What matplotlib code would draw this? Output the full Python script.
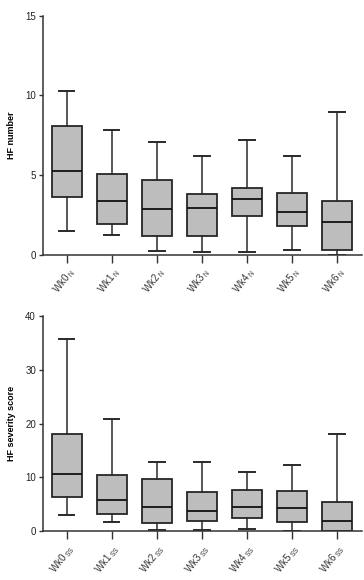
import matplotlib
matplotlib.use('Agg')
import matplotlib.pyplot as plt
import numpy as np

plt.rcParams['font.family'] = ['Liberation Sans', 'DejaVu Sans']

weeks = ['Wk0', 'Wk1', 'Wk2', 'Wk3', 'Wk4', 'Wk5', 'Wk6']

# HF number: whisker low, Q1, median, Q3, whisker high
n_low = [1.5, 1.25, 0.2, 0.15, 0.18, 0.3, 0.0]
n_q1 = [3.6, 1.95, 1.15, 1.2, 2.45, 1.8, 0.3]
n_med = [5.25, 3.35, 2.85, 2.95, 3.5, 2.65, 2.05]
n_q3 = [8.1, 5.05, 4.7, 3.8, 4.2, 3.85, 3.35]
n_high = [10.3, 7.8, 7.1, 6.2, 7.2, 6.2, 8.95]

# HF severity score
s_low = [3.0, 1.7, 0.2, 0.25, 0.45, 0.05, 0.0]
s_q1 = [6.3, 3.2, 1.5, 1.9, 2.4, 1.7, 0.0]
s_med = [10.6, 5.8, 4.5, 3.7, 4.6, 4.3, 2.0]
s_q3 = [18.0, 10.5, 9.7, 7.3, 7.6, 7.5, 5.5]
s_high = [35.7, 20.9, 12.9, 12.9, 11.1, 12.4, 18.0]


def make_stats(low, q1, med, q3, high):
    return [dict(whislo=a, q1=b, med=c, q3=d, whishi=e, fliers=[])
            for a, b, c, d, e in zip(low, q1, med, q3, high)]


def draw_panel(ax, stats, ymax, ystep, ylabel, sub):
    pos = np.arange(len(weeks))
    ax.bxp(stats, positions=pos, widths=0.67, patch_artist=True,
           showfliers=False,
           boxprops=dict(facecolor='#bdbdbd', edgecolor='#262626', linewidth=1.3),
           medianprops=dict(color='#111111', linewidth=1.3),
           whiskerprops=dict(color='#2a2a2a', linewidth=1.1),
           capprops=dict(color='#2a2a2a', linewidth=1.4),
           capwidths=0.34)
    ax.set_xlim(-0.53, 6.56)
    ax.set_ylim(0, ymax)
    ax.set_yticks(np.arange(0, ymax + 1, ystep))
    ax.set_xticks(pos)
    ax.set_xticklabels([w + r'$\,_{\mathregular{' + sub + '}}$' for w in weeks],
                       rotation=52, ha='right', rotation_mode='anchor',
                       fontsize=7, color='#222222')
    for s in ['top', 'right']:
        ax.spines[s].set_visible(False)
    for s in ['left', 'bottom']:
        ax.spines[s].set_color('#333333')
        ax.spines[s].set_linewidth(1.1)
    ax.tick_params(axis='y', direction='out', length=3, width=1, colors='#333333',
                   labelsize=7, labelcolor='#222222', pad=2)
    ax.tick_params(axis='x', direction='out', length=6, width=1, colors='#333333',
                   pad=2)
    ax.set_ylabel(ylabel, fontsize=6.5, fontweight='bold', labelpad=7)


fig = plt.figure(figsize=(3.64, 5.8), dpi=100)
ax1 = fig.add_axes([0.118, 0.561, 0.877, 0.412])
ax2 = fig.add_axes([0.118, 0.084, 0.877, 0.371])

draw_panel(ax1, make_stats(n_low, n_q1, n_med, n_q3, n_high), 15, 5, 'HF number', 'N')
draw_panel(ax2, make_stats(s_low, s_q1, s_med, s_q3, s_high), 40, 10, 'HF severity score', 'SS')

fig.savefig('out.png', dpi=100)
